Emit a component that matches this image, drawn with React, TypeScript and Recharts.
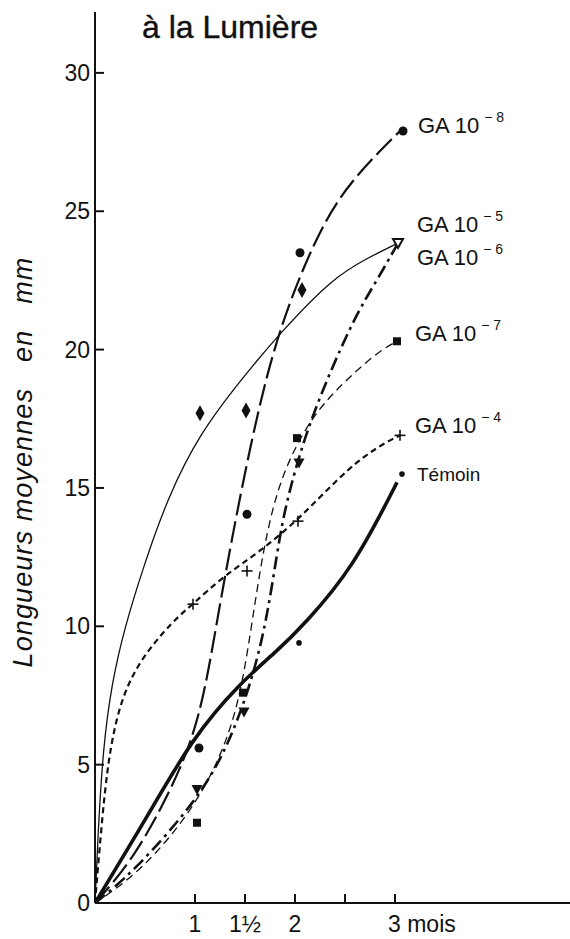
import { ComposedChart, Line, Scatter, XAxis, YAxis } from "recharts";

type Pt = [number, number];

const xTicks = [1, 1.5, 2, 2.5, 3];
const xTickLabels = ["1", "1½", "2", "", "3 mois"];
const yTicks = [0, 5, 10, 15, 20, 25, 30];

// fitted curves (months, mm)
const ga8Curve: Pt[] = [[0, 0], [0.38, 1.55], [0.78, 4.2], [1.05, 6.6], [1.22, 10.2], [1.38, 13.4], [1.58, 17.0], [1.82, 20.6], [2.22, 24.2], [2.55, 26.1], [3.05, 27.9]];
const ga5Curve: Pt[] = [[0, 0], [0.03, 2.5], [0.08, 5.6], [0.17, 8.0], [0.3, 10.0], [0.48, 12.1], [0.72, 14.6], [1.05, 17.0], [1.48, 19.0], [1.85, 20.6], [2.38, 22.6], [2.72, 23.3], [3.03, 23.85]];
const ga6Curve: Pt[] = [[0, 0], [0.38, 1.1], [1.02, 3.7], [1.32, 5.6], [1.55, 7.8], [1.72, 10.2], [1.85, 13.4], [1.95, 15.0], [2.15, 17.5], [2.58, 21.1], [2.82, 22.5], [3.03, 23.85]];
const ga7Curve: Pt[] = [[0, 0], [0.45, 1.1], [1.02, 3.5], [1.4, 6.4], [1.55, 9.6], [1.68, 12.8], [1.85, 15.4], [2.15, 17.5], [2.45, 18.7], [2.82, 19.9], [3.02, 20.3]];
const ga4Curve: Pt[] = [[0, 0], [0.06, 2.6], [0.13, 5.2], [0.25, 7.3], [0.45, 8.8], [0.78, 10.2], [0.98, 10.8], [1.28, 11.8], [1.65, 12.7], [2.05, 13.9], [2.55, 15.8], [2.88, 16.6], [3.05, 16.9]];
const temoinCurve: Pt[] = [[0, 0], [0.52, 3.1], [0.98, 6.0], [1.45, 7.95], [1.82, 9.1], [2.1, 10.1], [2.58, 12.1], [3.02, 15.2]];

// measured points
const ga8Points: Pt[] = [[1.04, 5.6], [1.52, 14.05], [2.05, 23.5], [3.08, 27.9]];
const ga5Points: Pt[] = [[1.05, 17.7], [1.51, 17.8], [2.07, 22.15]];
const ga6Points: Pt[] = [[1.02, 4.1], [1.49, 6.9], [2.04, 15.9]];
const ga56End: Pt[] = [[3.03, 23.85]];
const ga7Points: Pt[] = [[1.02, 2.9], [1.48, 7.6], [2.02, 16.8], [3.02, 20.3]];
const ga4Points: Pt[] = [[0.98, 10.8], [1.52, 12.0], [2.03, 13.8], [3.05, 16.9]];
const temoinPoints: Pt[] = [[2.04, 9.4], [3.07, 15.5]];

const toRows = (pts: Pt[]) => pts.map(([x, y]) => ({ x, y }));
const last = (pts: Pt[]) => toRows(pts.slice(-1));

const INK = "#111";
const FONT = "'Liberation Sans', Arial, sans-serif";

const Dot = (p: any) => <circle cx={p.cx} cy={p.cy} r={4.5} fill={INK} />;
const SmallDot = (p: any) => <circle cx={p.cx} cy={p.cy} r={2.8} fill={INK} />;
const Diamond = (p: any) => (
  <polygon points={`${p.cx},${p.cy - 8} ${p.cx + 4.5},${p.cy} ${p.cx},${p.cy + 8} ${p.cx - 4.5},${p.cy}`} fill={INK} />
);
const TriDown = (p: any) => (
  <polygon points={`${p.cx - 5.5},${p.cy - 4.5} ${p.cx + 5.5},${p.cy - 4.5} ${p.cx},${p.cy + 5.5}`} fill={INK} />
);
const TriDownOpen = (p: any) => (
  <polygon points={`${p.cx - 5},${p.cy - 4} ${p.cx + 5},${p.cy - 4} ${p.cx},${p.cy + 5}`} fill="#fff" stroke={INK} strokeWidth={2} />
);
const Square = (p: any) => <rect x={p.cx - 4} y={p.cy - 4} width={8} height={8} fill={INK} />;
const Plus = (p: any) => (
  <g stroke={INK} strokeWidth={1.6}>
    <line x1={p.cx - 5.5} y1={p.cy} x2={p.cx + 5.5} y2={p.cy} />
    <line x1={p.cx} y1={p.cy - 5.5} x2={p.cx} y2={p.cy + 5.5} />
  </g>
);

const gaLabel = (exp: string, dx: number, dy: number) => (p: any) => (
  <text x={p.cx + dx} y={p.cy + dy} fontFamily={FONT} fontSize={22} fill={INK}>
    GA 10
    <tspan dx={5} dy={-11} fontSize={14}>{exp}</tspan>
  </text>
);
const temoinLabel = (p: any) => (
  <text x={p.cx + 15} y={p.cy + 7} fontFamily={FONT} fontSize={19} fill={INK}>Témoin</text>
);

const XTick = (props: any) => {
  const { x, y, payload } = props;
  const label = xTickLabels[xTicks.indexOf(payload.value)];
  return (
    <g>
      <line x1={x} y1={y} x2={x} y2={y - 9} stroke={INK} strokeWidth={2} />
      {label && (
        <text x={label.length > 2 ? x - 7 : x} y={y + 29} textAnchor={label.length > 2 ? "start" : "middle"} fontFamily={FONT} fontSize={23} fill={INK}>
          {label}
        </text>
      )}
    </g>
  );
};

const YTick = (props: any) => {
  const { x, y, payload } = props;
  return (
    <g>
      <line x1={x} y1={y} x2={x + 9} y2={y} stroke={INK} strokeWidth={2} />
      <text x={x - 5} y={y + 8} textAnchor="end" fontFamily={FONT} fontSize={23} fill={INK}>
        {payload.value}
      </text>
    </g>
  );
};

const curve = (pts: Pt[], width: number, dash?: string) => (
  <Line
    data={toRows(pts)}
    dataKey="y"
    type="basis"
    stroke={INK}
    strokeWidth={width}
    strokeDasharray={dash}
    dot={false}
    activeDot={false}
    isAnimationActive={false}
  />
);

export default function App() {
  return (
    <div style={{ position: "absolute", left: 0, top: 0, width: 570, height: 939, background: "#fff" }}>
      <ComposedChart width={570} height={939} margin={{ top: 12, right: 0, bottom: 0, left: 35 }}>
        <XAxis
          type="number"
          dataKey="x"
          domain={[0, 4.75]}
          allowDataOverflow
          ticks={xTicks}
          interval={0}
          height={36}
          tickSize={0}
          tickMargin={0}
          tickLine={false}
          axisLine={{ stroke: INK, strokeWidth: 2 }}
          tick={(p: any) => <XTick {...p} />}
        />
        <YAxis
          type="number"
          dataKey="y"
          domain={[0, 32.2]}
          allowDataOverflow
          ticks={yTicks}
          interval={0}
          width={60}
          tickSize={0}
          tickMargin={0}
          tickLine={false}
          axisLine={{ stroke: INK, strokeWidth: 2 }}
          tick={(p: any) => <YTick {...p} />}
        />
        {curve(ga5Curve, 1.3)}
        {curve(ga8Curve, 2.2, "22 6")}
        {curve(ga6Curve, 2.6, "13 5 3 5")}
        {curve(ga7Curve, 1.3, "8 5")}
        {curve(ga4Curve, 2.2, "6 4")}
        {curve(temoinCurve, 3.6)}
        <Scatter data={toRows(ga8Points)} shape={Dot} isAnimationActive={false} />
        <Scatter data={toRows(ga5Points)} shape={Diamond} isAnimationActive={false} />
        <Scatter data={toRows(ga6Points)} shape={TriDown} isAnimationActive={false} />
        <Scatter data={toRows(ga56End)} shape={TriDownOpen} isAnimationActive={false} />
        <Scatter data={toRows(ga7Points)} shape={Square} isAnimationActive={false} />
        <Scatter data={toRows(ga4Points)} shape={Plus} isAnimationActive={false} />
        <Scatter data={toRows(temoinPoints)} shape={SmallDot} isAnimationActive={false} />
        <Scatter data={last(ga8Points)} shape={gaLabel("− 8", 15, 2)} isAnimationActive={false} />
        <Scatter data={last(ga56End)} shape={gaLabel("− 5", 19, -11)} isAnimationActive={false} />
        <Scatter data={last(ga56End)} shape={gaLabel("− 6", 19, 22)} isAnimationActive={false} />
        <Scatter data={last(ga7Points)} shape={gaLabel("− 7", 18, 0)} isAnimationActive={false} />
        <Scatter data={last(ga4Points)} shape={gaLabel("− 4", 15, -2)} isAnimationActive={false} />
        <Scatter data={last(temoinPoints)} shape={temoinLabel} isAnimationActive={false} />
      </ComposedChart>
      <svg width={570} height={939} style={{ position: "absolute", left: 0, top: 0, pointerEvents: "none" }}>
        <text x={142} y={38} fontFamily={FONT} fontSize={32} fill={INK} stroke={INK} strokeWidth={0.4}>à la Lumière</text>
        <text
          x={32}
          y={462}
          transform="rotate(-90, 32, 462)"
          textAnchor="middle"
          fontFamily={FONT}
          fontSize={27}
          letterSpacing={1.1}
          fontStyle="italic"
          fill={INK}
        >
          Longueurs moyennes
          <tspan dx={26}>en</tspan>
          <tspan dx={26}>mm</tspan>
        </text>
      </svg>
    </div>
  );
}
